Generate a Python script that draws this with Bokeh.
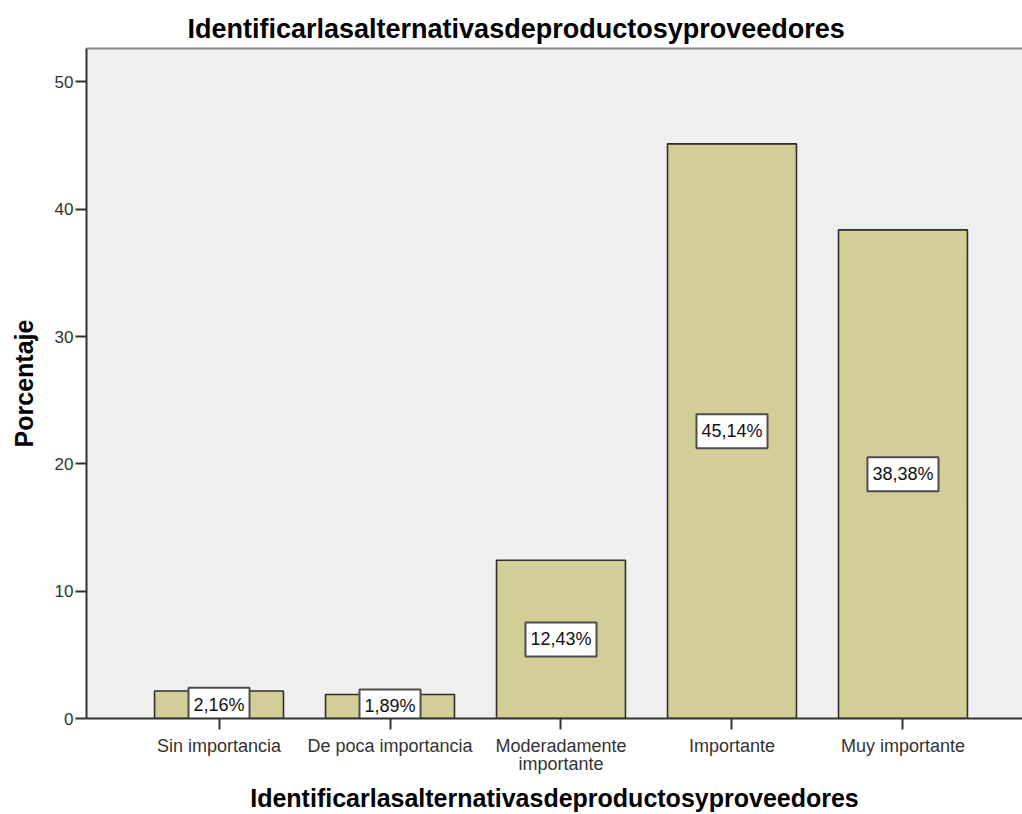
from bokeh.plotting import figure
from bokeh.models import (ColumnDataSource, FixedTicker, LinearAxis, Range1d)
from bokeh.core.properties import value
from bokeh.embed import file_html
from bokeh.resources import INLINE

# Survey answers: share of respondents per importance level
categories = ["Sin importancia", "De poca importancia", "Moderadamente\nimportante",
              "Importante", "Muy importante"]
percentages = [2.16, 1.89, 12.43, 45.14, 38.38]
y_ticks = [0, 10, 20, 30, 40, 50]

title_text = "Identificarlasalternativasdeproductosyproveedores"
FONT = "Liberation Sans"

positions = list(range(len(categories)))
labels = [f"{v:.2f}".replace(".", ",") + "%" for v in percentages]
mids = [v / 2 for v in percentages]

src = ColumnDataSource(dict(x=positions, top=percentages, mid=mids, label=labels))

p = figure(width=1022, height=814, output_backend="svg", toolbar_location=None,
           x_range=Range1d(-0.775, 4.699), y_range=Range1d(0, 52.63),
           min_border_left=86, min_border_right=0, min_border_top=48,
           min_border_bottom=96, background_fill_color="#efefef",
           border_fill_color="white", outline_line_color=None)

p.title.text = title_text
p.title.text_font = FONT
p.title.text_font_size = "27px"
p.title.text_font_style = "bold"
p.title.text_color = "black"
p.title.align = "left"
p.title.offset = 101
p.title.standoff = 9

p.grid.visible = False

p.vbar(x="x", top="top", width=0.754, source=src, fill_color="#d3ce97",
       line_color="#2e2e2e", line_width=1.6)

p.text(x="x", y="mid", text="label", source=src, text_font=value(FONT),
       text_font_size="18px", text_color="#111111", text_align="center",
       text_baseline="middle", background_fill_color="white",
       border_line_color="#4d4d4d", border_line_width=2, padding=(5, 7))

# y axis
yax = p.yaxis[0]
yax.ticker = FixedTicker(ticks=y_ticks)
yax.axis_label = "Porcentaje"
yax.axis_label_text_font = FONT
yax.axis_label_text_font_size = "25px"
yax.axis_label_text_font_style = "bold"
yax.axis_label_text_color = "black"
yax.axis_label_standoff = 14
yax.major_label_text_font = FONT
yax.major_label_text_font_size = "17px"
yax.major_label_text_color = "#333333"
yax.major_label_standoff = 2
yax.major_tick_out = 11
yax.major_tick_in = 0
yax.minor_tick_line_color = None
yax.axis_line_width = 2
yax.axis_line_color = "#333333"
yax.major_tick_line_width = 2
yax.major_tick_line_color = "#333333"

# x axis
xax = p.xaxis[0]
xax.ticker = FixedTicker(ticks=positions)
xax.major_label_overrides = {i: c for i, c in zip(positions, categories)}
xax.axis_label = title_text
xax.axis_label_text_font = FONT
xax.axis_label_text_font_size = "25px"
xax.axis_label_text_font_style = "bold"
xax.axis_label_text_color = "black"
xax.axis_label_standoff = 7
xax.major_label_text_font = FONT
xax.major_label_text_font_size = "18px"
xax.major_label_text_line_height = 0.9
xax.major_label_text_color = "#333333"
xax.major_label_standoff = 6
xax.major_tick_out = 11
xax.major_tick_in = 0
xax.minor_tick_line_color = None
xax.axis_line_width = 2
xax.axis_line_color = "#333333"
xax.major_tick_line_width = 2
xax.major_tick_line_color = "#333333"

# thin frame line along the top edge of the plot area
top_edge = LinearAxis(ticker=FixedTicker(ticks=[]), axis_line_color="#888888",
                      axis_line_width=2, major_tick_line_color=None,
                      minor_tick_line_color=None, major_label_text_font_size="0px")
p.add_layout(top_edge, "above")

open("out.html", "w").write(file_html(p, INLINE))
